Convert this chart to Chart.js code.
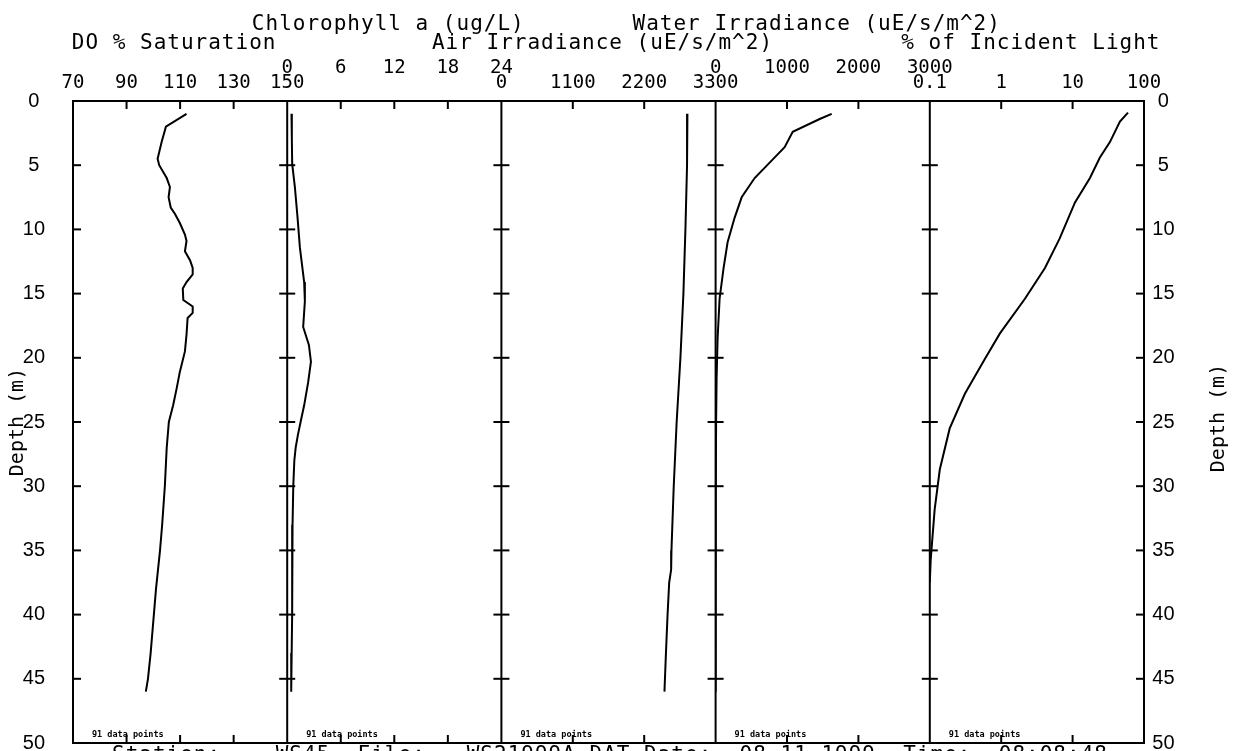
<!DOCTYPE html>
<html>
<head>
<meta charset="utf-8">
<script src="https://cdn.jsdelivr.net/npm/chart.js@4.4.1/dist/chart.umd.min.js"></script>
<style>
  html, body { margin: 0; padding: 0; background: #fff; }
  #wrap { width: 1233px; height: 751px; position: relative; }
</style>
</head>
<body>
<div id="wrap"><canvas id="c" width="1233" height="751"></canvas></div>
<script>
// ---------------- data ----------------
const doDepth = [1.0, 2.0, 3.2, 4.5, 5.0, 6.0, 6.7, 7.5, 8.3, 8.8, 9.5, 10.4, 10.9, 11.7, 12.4, 13.0, 13.5, 14.1, 14.6, 15.5, 16.0, 16.5, 16.9, 18.2, 19.5, 21.1, 22.4, 23.7, 25, 27, 30, 33, 35, 38, 40, 43, 45, 46];
const doSat = [112.4, 104.7, 103.1, 101.6, 102.2, 105.0, 106.2, 105.7, 106.5, 108.1, 109.9, 111.8, 112.4, 111.8, 113.7, 114.7, 114.7, 112.4, 111.0, 111.2, 114.7, 114.7, 112.8, 112.4, 111.8, 109.9, 108.7, 107.4, 105.8, 105.0, 104.3, 103.3, 102.5, 101.0, 100.2, 99.0, 98.0, 97.2];

const chlDepth = [1, 3, 4.9, 6.7, 9, 11.4, 14.1, 15.6, 17.6, 19.0, 20.3, 21.9, 23.7, 25, 26, 27, 28, 30, 33, 36, 40, 43, 46];
const chlValues = [0.48, 0.52, 0.56, 0.86, 1.15, 1.42, 1.9, 1.98, 1.79, 2.43, 2.66, 2.35, 1.9, 1.5, 1.2, 0.95, 0.8, 0.68, 0.6, 0.56, 0.55, 0.5, 0.45];

const airDepth = [1, 5, 10, 15, 20, 25, 30, 35, 36.5, 37.5, 40, 43, 46];
const airValues = [2866, 2860, 2835, 2804, 2758, 2700, 2655, 2620, 2615, 2585, 2560, 2535, 2512];

const waterDepth = [1, 1.4, 2.4, 3.6, 4.8, 6, 7.5, 9.1, 11, 13, 15.4, 18.5, 21.6, 25, 30, 35, 40, 46];
const waterValues = [1626, 1458, 1080, 967, 757, 547, 365, 266, 168, 112, 56, 28, 14, 7, 3, 1, 0.5, 0.2];

const lightDepth = [0.9, 1.6, 3.2, 4.4, 6, 7.9, 10.7, 13, 15.4, 18.1, 20.1, 22.8, 25.5, 28.7, 31.8, 35.7, 37.5];
const lightValues = [59.7, 46, 33.3, 24.1, 17.5, 10.8, 6.6, 4.1, 2.15, 0.96, 0.59, 0.31, 0.19, 0.138, 0.117, 0.103, 0.1];

// ---------------- axes / labels ----------------
const panelTitles = ['DO % Saturation', 'Chlorophyll a (ug/L)', 'Air Irradiance (uE/s/m^2)', 'Water Irradiance (uE/s/m^2)', '% of Incident Light'];
const doTicks = [70, 90, 110, 130, 150];
const chlTicks = [0, 6, 12, 18, 24];
const airTicks = [0, 1100, 2200, 3300];
const waterTicks = [0, 1000, 2000, 3000];
const lightTicks = [0.1, 1, 10, 100];
const doTickLabels = ['70', '90', '110', '130', '150'];
const chlTickLabels = ['0', '6', '12', '18', '24'];
const airTickLabels = ['0', '1100', '2200', '3300'];
const waterTickLabels = ['0', '1000', '2000', '3000'];
const lightTickLabels = ['0.1', '1', '10', '100'];
const depthTicks = [0, 5, 10, 15, 20, 25, 30, 35, 40, 45, 50];
const depthTitle = 'Depth (m)';
const dataNote = '91 data points';
const footerText = 'Station:    WS45  File:   WS21999A.DAT Date:  08-11-1999  Time:  08:08:48';

// ---------------- chart ----------------
const MONO = 'DejaVu Sans Mono';
const TOP_H = 101;
const toXY = (xs, ds) => xs.map((v, i) => ({ x: v, y: ds[i] }));

function xScale(type, ticks, labels, even) {
  return {
    type: type,
    position: 'top',
    stack: 'panels',
    stackWeight: 1,
    min: ticks[0],
    max: ticks[ticks.length - 1],
    afterBuildTicks: s => { s.ticks = ticks.map(v => ({ value: v })); },
    afterFit: s => { s.height = TOP_H; },
    grid: { display: false, drawTicks: false },
    border: { display: false },
    ticks: {
      autoSkip: false, maxRotation: 0, minRotation: 0,
      padding: even ? 21.6 : 6.6,
      color: '#000',
      font: { family: MONO, size: 19 },
      callback: (v, i) => labels[i]
    },
    title: { display: false }
  };
}

function yScale(pos) {
  return {
    type: 'linear',
    position: pos,
    reverse: true,
    min: 0, max: 50,
    afterBuildTicks: s => { s.ticks = depthTicks.map(v => ({ value: v })); },
    afterFit: s => {
      s.width = pos === 'left' ? 73 : 89;
      s.paddingTop = 0;
      s.paddingBottom = 0;
    },
    grid: { display: false, drawTicks: false },
    border: { display: false },
    ticks: {
      padding: pos === 'left' ? 28 : 8.3,
      crossAlign: 'center',
      color: '#000',
      font: { family: 'Liberation Sans', size: 20, lineHeight: 0.8 },
      callback: v => String(v)
    },
    title: {
      display: pos === 'left', text: depthTitle, color: '#000',
      font: { family: MONO, size: 20 },
      padding: { top: 6, bottom: 0 }
    }
  };
}

const panelIds = ['x1', 'x2', 'x3', 'x4', 'x5'];

const framePlugin = {
  id: 'frame',
  afterDatasetsDraw(chart) {
    const { ctx, chartArea: a, scales } = chart;
    const ys = scales.y;
    ctx.save();
    ctx.strokeStyle = '#000';
    ctx.lineWidth = 2;
    const line = (x1, y1, x2, y2) => { ctx.beginPath(); ctx.moveTo(x1, y1); ctx.lineTo(x2, y2); ctx.stroke(); };
    ctx.strokeRect(a.left, a.top, a.right - a.left, a.bottom - a.top);
    panelIds.forEach((id, i) => {
      const s = scales[id];
      if (i > 0) line(s.left, a.top, s.left, a.bottom);
      s.ticks.forEach(t => {
        const px = s.getPixelForValue(t.value);
        if (px > s.left + 2 && px < s.right - 2) {
          line(px, a.top, px, a.top + 8);
          line(px, a.bottom, px, a.bottom - 8);
        }
      });
      ys.ticks.forEach(t => {
        const py = ys.getPixelForValue(t.value);
        if (py > a.top + 2 && py < a.bottom - 2) {
          line(i === 0 ? s.left : s.left - 8, py, s.left + 8, py);
          if (i === panelIds.length - 1) line(s.right - 8, py, s.right, py);
        }
      });
      // note inside each panel
      ctx.fillStyle = '#000';
      ctx.font = 'bold 8.5px "' + MONO + '"';
      ctx.textAlign = 'left';
      ctx.textBaseline = 'alphabetic';
      ctx.fillText(dataNote, s.left + 19, a.bottom - 6);
      // staggered panel title above the axis
      ctx.save();
      ctx.font = '21px "' + MONO + '"';
      ctx.letterSpacing = '1px';
      ctx.textAlign = 'center';
      ctx.fillText(panelTitles[i], (s.left + s.right) / 2 - 6, i % 2 === 1 ? 30 : 49);
      ctx.restore();
    });
    ctx.restore();
  },
  afterDraw(chart) {
    const { ctx, chartArea: a } = chart;
    ctx.save();
    ctx.fillStyle = '#000';
    ctx.font = '20px "' + MONO + '"';
    ctx.textAlign = 'center';
    ctx.textBaseline = 'middle';
    ctx.translate(1219, (a.top + a.bottom) / 2 - 4);
    ctx.rotate(-Math.PI / 2);
    ctx.fillText(depthTitle, 0, 0);
    ctx.restore();
    ctx.save();
    ctx.fillStyle = '#000';
    ctx.font = '21px "' + MONO + '"';
    ctx.letterSpacing = '1px';
    ctx.textAlign = 'left';
    ctx.textBaseline = 'alphabetic';
    ctx.fillText(footerText, 112, 761);
    ctx.restore();
  }
};

const lineStyle = { borderColor: '#000', backgroundColor: '#000', borderWidth: 2, pointRadius: 0, showLine: true, fill: false, tension: 0 };

new Chart(document.getElementById('c'), {
  type: 'scatter',
  data: {
    datasets: [
      Object.assign({ label: panelTitles[0], data: toXY(doSat, doDepth), xAxisID: 'x1', yAxisID: 'y' }, lineStyle),
      Object.assign({ label: panelTitles[1], data: toXY(chlValues, chlDepth), xAxisID: 'x2', yAxisID: 'y' }, lineStyle),
      Object.assign({ label: panelTitles[2], data: toXY(airValues, airDepth), xAxisID: 'x3', yAxisID: 'y' }, lineStyle),
      Object.assign({ label: panelTitles[3], data: toXY(waterValues, waterDepth), xAxisID: 'x4', yAxisID: 'y' }, lineStyle),
      Object.assign({ label: panelTitles[4], data: toXY(lightValues, lightDepth), xAxisID: 'x5', yAxisID: 'y' }, lineStyle)
    ]
  },
  options: {
    responsive: false,
    devicePixelRatio: 1,
    animation: false,
    layout: { padding: { top: 0, left: 0, right: 0, bottom: 8 } },
    plugins: { legend: { display: false }, tooltip: { enabled: false }, title: { display: false } },
    scales: {
      // declared right-to-left: Chart.js places stacked top axes in reverse order
      x5: xScale('logarithmic', lightTicks, lightTickLabels, false),
      x4: xScale('linear', waterTicks, waterTickLabels, true),
      x3: xScale('linear', airTicks, airTickLabels, false),
      x2: xScale('linear', chlTicks, chlTickLabels, true),
      x1: xScale('linear', doTicks, doTickLabels, false),
      y: yScale('left'),
      y2: yScale('right')
    }
  },
  plugins: [framePlugin]
});
</script>
</body>
</html>
